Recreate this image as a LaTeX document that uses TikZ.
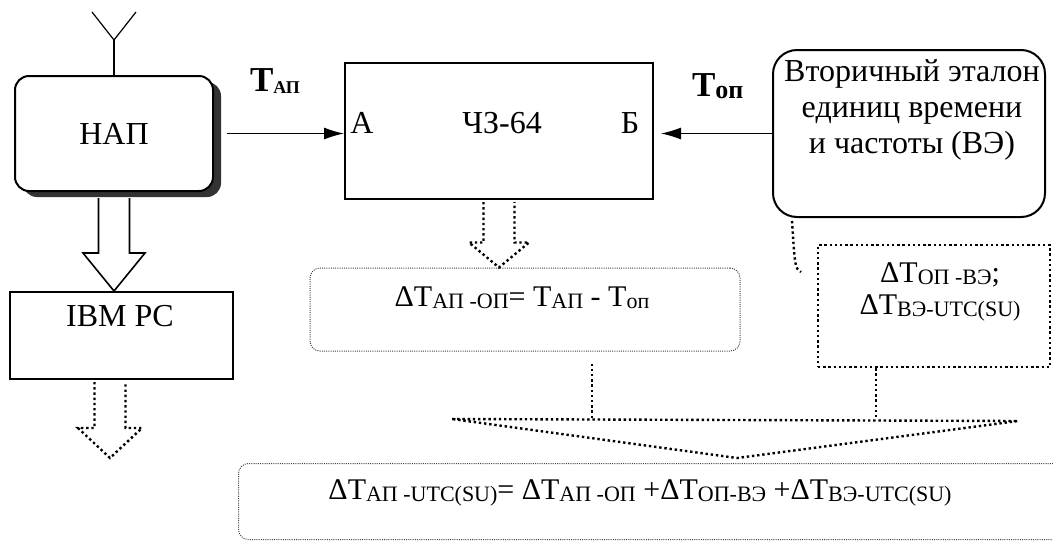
\documentclass[tikz,border=0pt]{standalone}
\usepackage{fontspec}
\setmainfont{Liberation Serif}
\usetikzlibrary{calc,positioning,shadows,arrows.meta}

% index text of the time differences
\newcommand{\sub}[1]{\raisebox{-1pt}{\fontsize{11}{11}\selectfont #1}}
% wide hollow arrow: [style]{start}{tip}{head length}{head half width}
\newcommand{\hollowarrow}[5][]{%
  \draw[#1] ($(#2)+(-15.5,0)$) -- ($(#3)+(-15.5,-#4)$) -- ($(#3)+(-#5,-#4)$) -- (#3)
    -- ($(#3)+(#5,-#4)$) -- ($(#3)+(15.5,-#4)$) -- ($(#2)+(15.5,0)$);}

\begin{document}
\begin{tikzpicture}[x=0.5pt, y=-0.5pt, font=\fontsize{16}{16}\selectfont]
  \tikzset{
    block/.style={draw, line width=1pt, inner sep=0pt},
    rblock/.style={block, rounded corners=7pt},
    fine/.style={draw=black!75, line width=0.5pt, dash pattern=on 0.5pt off 0.6pt, rounded corners=5pt, inner sep=0pt},
    coarse/.style={line width=1.2pt, dash pattern=on 1.2pt off 1.4pt},
    sig/.style={-{Latex[length=10pt,width=6pt]}, line width=0.6pt},
    formula/.style={font=\fontsize{15}{15}\selectfont}
  }
  \useasboundingbox (0,0) rectangle (1053,542);
  \clip (0,0) rectangle (1053,542);

  % receiver with antenna
  \node[rblock, fill=white, minimum width=99pt, minimum height=57.5pt,
    drop shadow={shadow xshift=4pt, shadow yshift=-3pt, fill=black!80, opacity=1}] (nap) at (114,133.5) {НАП};
  \coordinate (ant) at (114,40);
  \draw[line width=0.6pt] (92,12) -- (ant) -- (136,12);
  \draw[line width=0.6pt] (ant) -- (nap.north);

  % counter
  \node[block, minimum width=154pt, minimum height=68pt] (ch) at (499,131) {};
  \node (chname) at (502,123) {ЧЗ-64};
  \node (inA) at (362,123) {А};
  \node (inB) at (630,123) {Б};

  % secondary standard
  \node[rblock, rounded corners=12pt, minimum width=136pt, minimum height=83.5pt] (ve) at (909,133.5) {};
  \node[align=center, font=\fontsize{16}{18}\selectfont] (vetxt) at (912,110)
    {Вторичный эталон\\единиц времени\\и частоты (ВЭ)};

  % signals
  \draw[sig] ([xshift=6.5pt]nap.east) -- (nap.east -| ch.west);
  \draw[sig] (ve.west) -- ([xshift=3.5pt]ve.west -| ch.east);
  \node[anchor=base west, font=\fontsize{17.5}{17.5}\selectfont\bfseries] (tap) at (243,91)
    {T\raisebox{-1pt}{\fontsize{9}{9}\selectfont АП}};
  \node[anchor=base west, font=\fontsize{17.5}{17.5}\selectfont\bfseries] (top) at (685,96)
    {T\raisebox{-1pt}{\fontsize{13}{13}\selectfont оп}};

  % computer
  \node[block, minimum width=111.5pt, minimum height=43.5pt] (pc) at (121.5,335.5) {};
  \node (pctxt) at (120,316) {IBM PC};
  \coordinate (a1s) at ([yshift=-3pt]nap.south);
  \coordinate (a1t) at (nap.south |- pc.north);
  \hollowarrow[line width=0.8pt]{a1s}{a1t}{38}{31}
  \coordinate (pcout) at (110,458);
  \coordinate (a2s) at ([yshift=-1pt]pcout |- pc.south);
  \hollowarrow[coarse]{a2s}{pcout}{30}{32}

  % measured difference
  \node[fine, minimum width=215pt, minimum height=41.5pt] (d1) at (525,309.5) {};
  \node[formula] (d1txt) at (522,298) {ΔT\sub{АП -ОП}= T\sub{АП} - T\sub{оп}};
  \coordinate (a3s) at ([yshift=-1pt]ch.south);
  \coordinate (a3t) at (ch.south |- d1.north);
  \hollowarrow[coarse]{a3s}{a3t}{25}{30}

  % corrections of the standard
  \node[draw, coarse, minimum width=116pt, minimum height=61pt, inner sep=0pt] (d2) at (934,306) {};
  \node[formula, align=center, font=\fontsize{15}{16}\selectfont] (d2txt) at (940,292)
    {ΔT\sub{ОП -ВЭ};\\ΔT\sub{ВЭ-UTC(SU)}};
  \coordinate (hook) at (801,272);
  \draw[coarse] ($(ve.south west)+(20,3)$) .. controls (795,268) .. (hook);

  % summing
  \coordinate (mL) at (452,419);
  \coordinate (mR) at (1018,421);
  \coordinate (mT) at (737,458);
  \draw[coarse] (mL) -- (mR) -- (mT) -- cycle;
  \coordinate (j1) at (592,419);
  \coordinate (j2) at (876,420);
  \draw[coarse] ([yshift=-6pt]j1 |- d1.south) -- (j1);
  \draw[coarse] (j2 |- d2.south) -- (j2);

  % result
  \node[fine, minimum width=420pt, minimum height=38pt, anchor=north west] (d3) at (238,463) {};
  \node[formula] (d3txt) at (640,493)
    {ΔT\sub{АП -UTC(SU)}= ΔT\sub{АП -ОП} +ΔT\sub{ОП-ВЭ} +ΔT\sub{ВЭ-UTC(SU)}};
\end{tikzpicture}
\end{document}
